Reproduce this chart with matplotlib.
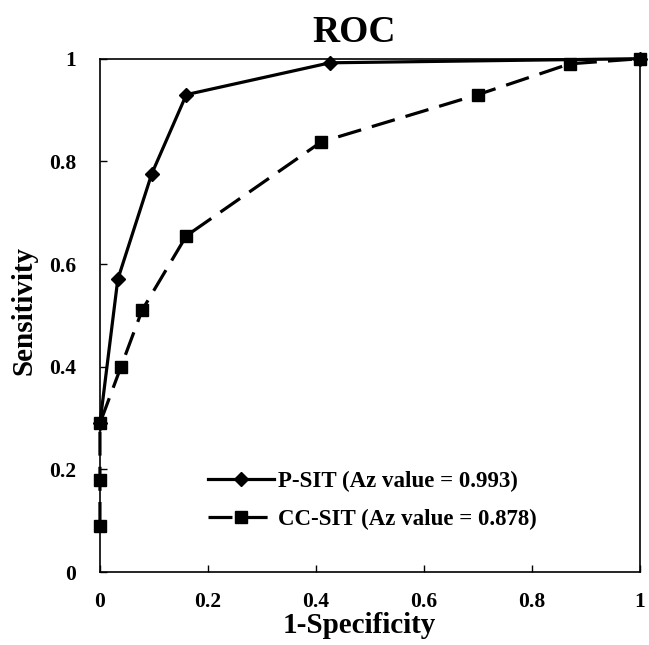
import matplotlib
matplotlib.use("Agg")
import matplotlib.pyplot as plt

# ROC points
psit_fpr = [0.0, 0.033, 0.096, 0.16, 0.426, 1.0]
psit_tpr = [0.29, 0.57, 0.776, 0.93, 0.992, 1.0]
ccsit_fpr = [0.0, 0.0, 0.0, 0.039, 0.078, 0.16, 0.41, 0.70, 0.87, 1.0]
ccsit_tpr = [0.09, 0.18, 0.29, 0.40, 0.51, 0.655, 0.838, 0.93, 0.99, 1.0]
psit_label = "P-SIT (Az value = 0.993)"
ccsit_label = "CC-SIT (Az value = 0.878)"
ticks = [0, 0.2, 0.4, 0.6, 0.8, 1]
tick_labels = ["0", "0.2", "0.4", "0.6", "0.8", "1"]

plt.rcParams["font.family"] = ["Liberation Serif", "DejaVu Serif"]
plt.rcParams["font.weight"] = "bold"

fig = plt.figure(figsize=(6.49, 6.45), dpi=100)
ax = fig.add_axes([0.154, 0.113, 0.832, 0.796])

ax.plot(psit_fpr, psit_tpr, color="black", lw=2.3, marker="D", ms=7,
        label=psit_label, clip_on=False, zorder=3)
ax.plot(ccsit_fpr, ccsit_tpr, color="black", lw=2.3, ls=(0, (7.5, 3.5)), marker="s", ms=8,
        label=ccsit_label, clip_on=False, zorder=3)

ax.set_xlim(0, 1)
ax.set_ylim(0, 1)
ax.set_xticks(ticks)
ax.set_xticklabels(tick_labels)
ax.set_yticks(ticks)
ax.set_yticklabels(tick_labels)
ax.tick_params(direction="in", length=5, width=1, labelsize=15.5)
ax.tick_params(axis="x", pad=14)
ax.tick_params(axis="y", pad=17)
for s in ax.spines.values():
    s.set_linewidth(1.2)

ax.set_title("ROC", fontsize=27, fontweight="bold", x=0.47, pad=12)
ax.set_xlabel("1-Specificity", fontsize=21, fontweight="bold", labelpad=0, x=0.48)
ax.set_ylabel("Sensitivity", fontsize=21, fontweight="bold", labelpad=8, y=0.51)

leg = ax.legend(loc="center left", bbox_to_anchor=(0.2, 0.14), frameon=False,
                borderpad=0, borderaxespad=0, handlelength=2.9, handletextpad=0.15,
                labelspacing=0.75, prop={"weight": "bold", "size": 16.5})

fig.savefig("out.png", dpi=100)
